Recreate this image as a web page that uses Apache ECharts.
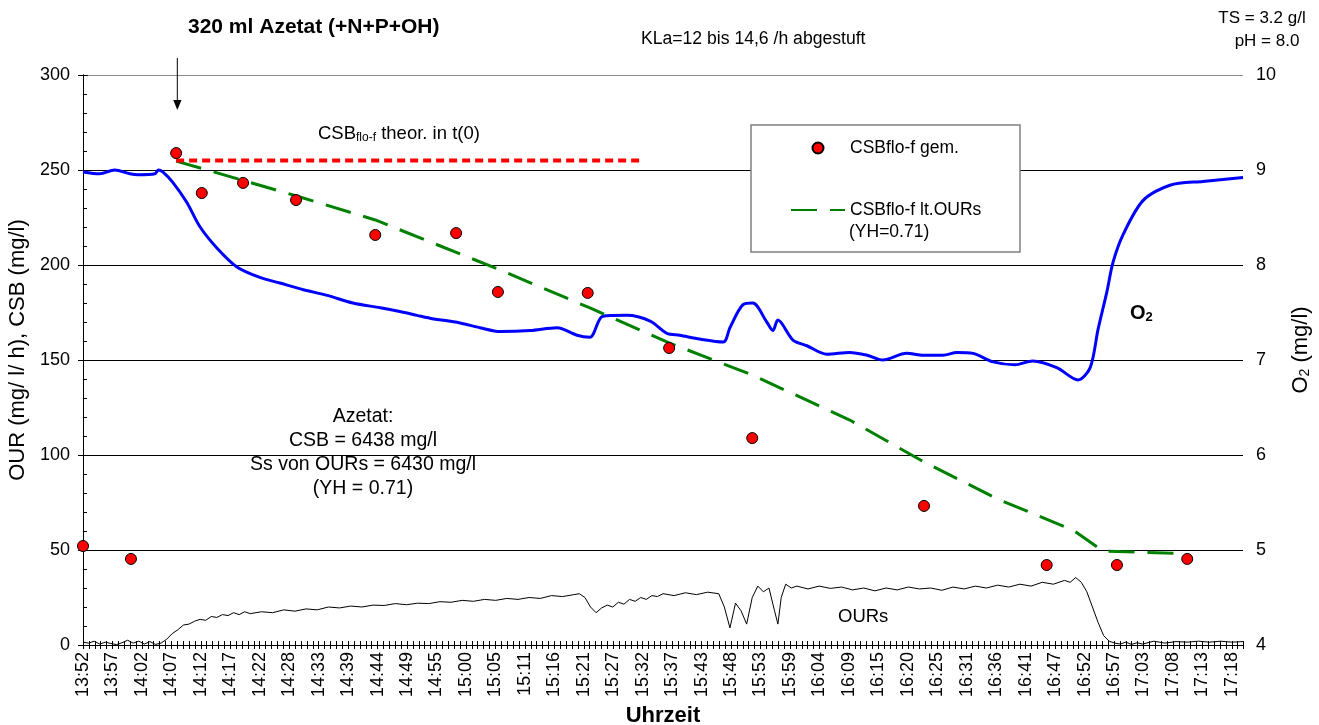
<!DOCTYPE html>
<html><head><meta charset="utf-8">
<script src="https://cdn.jsdelivr.net/npm/echarts@6/dist/echarts.min.js"></script>
<style>html,body{margin:0;padding:0;background:#fff}#c{width:1319px;height:725px}</style>
</head><body><div id="c"></div>
<script>
// ---- data (x = minutes after 13:52) ----
const timeLabels = ['13:52','13:57','14:02','14:07','14:12','14:17','14:22','14:28','14:33','14:39','14:44','14:49','14:55','15:00','15:05','15:11','15:16','15:21','15:27','15:32','15:37','15:43','15:48','15:53','15:59','16:04','16:09','16:15','16:20','16:25','16:31','16:36','16:41','16:47','16:52','16:57','17:03','17:08','17:13','17:18'];
const labelSpanMinutes = 206; // 13:52 -> 17:18

const o2Minutes = [0,3.0,5.7,8.4,9.9,12.9,13.5,14.3,16.1,18.6,21.0,24.0,27.6,31.7,35.3,39.5,43.8,48.4,53.3,56.8,59.9,62.2,67.6,71.2,74.8,80.2,85.0,88.6,90.9,93.2,97.5,101.7,104.7,107.0,110.6,114.8,116.0,118.3,120.1,122.6,123.7,124.6,127.3,129.8,133.4,137.5,140.6,143.4,147.7,150.6,154.2,156.7,159.6,163.2,167.1,170.3,174.6,178.4,180.6,182.0,183.6,184.7,186.5,190.1,194.9,200.8,208.0];
const o2Values = [8.98,8.96,9.0,8.96,8.95,8.96,9.0,8.98,8.87,8.66,8.40,8.18,7.98,7.87,7.81,7.74,7.68,7.60,7.55,7.51,7.47,7.44,7.39,7.34,7.30,7.31,7.34,7.26,7.24,7.46,7.47,7.41,7.28,7.26,7.22,7.19,7.34,7.58,7.60,7.40,7.31,7.42,7.21,7.15,7.06,7.08,7.05,7.00,7.07,7.05,7.05,7.08,7.07,6.98,6.95,6.99,6.92,6.79,6.92,7.32,7.72,8.03,8.32,8.68,8.84,8.88,8.92];

const ourMinutes = [0,1,2,3,4,5,6,7,8,9,10,11,12,13,14,15,16,17,18,19,20,21,22,23,24,25,26,27,28,29,30,32,34,36,38,40,42,44,46,48,50,52,54,56,58,60,62,64,66,68,70,72,74,76,78,80,82,84,86,88,89,90,91,92,93,94,95,96,97,98,99,100,101,102,103,104,106,108,110,112,114,115,116,117,118,119,120,121,122,123,124,124.6,125.2,126,127,128,130,132,134,136,138,140,142,144,146,148,150,152,154,156,158,160,162,164,166,168,170,172,174,176,177,178,179,180,181,182,183,184,185,186,187,188,189,190,192,194,196,198,200,202,204,206,208];
const ourValues = [1.5,1,2,0.5,1.5,0.8,0.2,1.2,2.5,1,2,0.5,1.8,0.3,1,3,6,8,10.5,11,12.5,13.5,13,15,14.5,16,15.5,17,16,17.5,16.5,17.5,17,18.5,17.8,19,18.5,20,19.5,20.5,20,21,20.8,21.8,21.2,22,21.8,22.8,22.5,23.5,23,24,23.5,24.5,24,25,24.5,26,25.5,26.5,27,25,20,17,19.5,21,20,22.5,21.5,24,23,25,24,26,25.5,27,26,27.5,26.5,27.8,27,20,9,22,18,11,25,31,28,30,18,11,25,32,30,31,29.5,31,29.8,30.5,29,30,28.5,30,29,30.5,29.5,30,28.8,30.5,29.5,31,30,31.5,30.5,32,31,33,32,34,33,35.5,33,28,20,12,5,2,1,0.5,1.5,0.3,1.2,0.5,2,1,1.8,1.5,2,1.5,2,1.5,1.8];

const csbMeasMinutes = [0,8.6,16.7,21.3,28.7,38.2,52.4,66.9,74.4,90.5,105.1,120.0,150.8,172.8,185.4,198.0];
const csbMeasValues = [52.1,45.3,258.9,237.9,243.2,234.2,215.8,216.8,185.8,185.3,156.3,108.9,73.2,42.1,42.1,45.3];

const csbOurMinutes = [16.7,38.9,52.4,74.8,90.9,105.1,120.0,137.5,150.8,164.4,177.5,182.9,195.8];
const csbOurValues = [254.7,235.8,223.7,197.4,177.4,159.0,142.1,118.4,96.3,76.3,60.5,49.5,48.2];

const csbTheorMinutes = [16.7,99.9];
const csbTheorValues = [255,255];

// ---- build ----
const zip = (a,b) => a.map((x,i)=>[x,b[i]]);
const xStep = labelSpanMinutes/(timeLabels.length-1);
const FONT = "'Liberation Sans', Arial, sans-serif";
const chart = echarts.init(document.getElementById('c'), null, {renderer:'canvas'});

const xFmt = v => { const i = Math.round(v/xStep); return (Math.abs(v - i*xStep) < 0.01 && timeLabels[i]) ? timeLabels[i] : ''; };

const option = {
  animation:false,
  textStyle:{fontFamily:FONT, color:'#000'},
  grid:{left:83, right:76, top:75, bottom:80, containLabel:false, outerBoundsMode:'none'},
  xAxis:[
    {type:'value', min:0, max:208, interval:xStep, position:'bottom',
     axisLine:{show:true, onZero:false, lineStyle:{color:'#000', width:1}},
     axisTick:{show:true, length:4, lineStyle:{color:'#000'}},
     minorTick:{show:true, splitNumber:5, length:4, lineStyle:{color:'#000'}},
     splitLine:{show:false},
     axisLabel:{rotate:90, fontSize:18, color:'#000', margin:7, formatter:xFmt, fontFamily:FONT},
     name:'Uhrzeit', nameLocation:'middle', nameGap:58,
     nameTextStyle:{fontSize:22, fontWeight:'bold', color:'#000', fontFamily:FONT}},
    {type:'value', min:0, max:208, interval:xStep, position:'bottom', offset:0,
     axisLine:{show:false}, axisLabel:{show:false}, splitLine:{show:false},
     axisTick:{show:true, inside:true, length:4, lineStyle:{color:'#000'}},
     minorTick:{show:true, splitNumber:5, length:4, lineStyle:{color:'#000'}}}
  ],
  yAxis:[
    {type:'value', min:0, max:300, interval:50, position:'left',
     axisLine:{show:true, lineStyle:{color:'#000', width:1}},
     axisTick:{show:true, length:5, lineStyle:{color:'#000'}},
     axisLabel:{fontSize:18, color:'#000', margin:13, fontFamily:FONT},
     splitLine:{show:true, lineStyle:{color:['#000','#000','#000','#000','#000','#000','#8c8c8c'], width:1}},
     name:'OUR (mg/ l/ h), CSB (mg/l)', nameLocation:'middle', nameGap:50, nameRotate:90,
     nameTextStyle:{fontSize:22, color:'#000', fontFamily:FONT, padding:[0,0,0,20]}},
    {type:'value', min:4, max:10, interval:1, position:'right',
     axisLine:{show:true, lineStyle:{color:'#000', width:1}},
     axisTick:{show:true, length:5, lineStyle:{color:'#000'}},
     axisLabel:{fontSize:18, color:'#000', margin:13, fontFamily:FONT},
     splitLine:{show:false},
     name:'{a|O}{s|2}{a| (mg/l)}', nameLocation:'middle', nameGap:46, nameRotate:90,
     nameTextStyle:{color:'#000', fontFamily:FONT, padding:[0,0,0,20], rich:{a:{fontSize:22, fontFamily:FONT, color:'#000'}, s:{fontSize:14, fontFamily:FONT, color:'#000', padding:[9,0,0,0]}}}},
    {type:'value', min:0, max:300, interval:50, position:'left', offset:0,
     axisLine:{show:false}, axisLabel:{show:false}, splitLine:{show:false},
     axisTick:{show:false, inside:true},
     minorTick:{show:true, splitNumber:5, length:4, lineStyle:{color:'#000'}}}
  ],
  legend:{
    data:[{name:'CSBflo-f gem.'}, {name:'CSBflo-f lt.OURs', itemStyle:{opacity:0}}],
    orient:'vertical', left:790, top:138, padding:0,
    itemWidth:54, itemHeight:11, itemGap:42, z:6,
    textStyle:{fontSize:17.5, color:'#000', fontFamily:FONT, lineHeight:20}
  },
  series:[
    {name:'OURs', type:'line', xAxisIndex:0, yAxisIndex:0, data:zip(ourMinutes,ourValues),
     symbol:'none', lineStyle:{color:'#000', width:1}, z:2},
    {name:'O2', type:'line', xAxisIndex:0, yAxisIndex:1, data:zip(o2Minutes,o2Values),
     symbol:'none', smooth:0.3, lineStyle:{color:'#0000ff', width:3}, z:3},
    {name:'CSBflo-f lt.OURs', type:'line', xAxisIndex:0, yAxisIndex:0, data:zip(csbOurMinutes,csbOurValues),
     symbol:'none', showSymbol:false, itemStyle:{color:'#008000'}, lineStyle:{color:'#008000', width:3, type:[26,13], cap:'butt'}, z:4},
    {name:'CSB theor', type:'line', xAxisIndex:0, yAxisIndex:0, data:zip(csbTheorMinutes,csbTheorValues),
     symbol:'none', lineStyle:{color:'#ff0000', width:4, type:[8,5], cap:'butt'}, z:4},
    {name:'CSBflo-f gem.', type:'scatter', xAxisIndex:0, yAxisIndex:0, data:zip(csbMeasMinutes,csbMeasValues),
     symbol:'circle', symbolSize:11, itemStyle:{color:'#ff0000', borderColor:'#000', borderWidth:1, opacity:1}, z:5}
  ],
  graphic:[
    {type:'rect', z:5, shape:{x:751, y:125, width:269, height:127}, style:{fill:'#fff', stroke:'#808080', lineWidth:1.5}},
    {type:'text', z:7, x:849, y:232, style:{text:'(YH=0.71)', fontSize:17.5, fontFamily:FONT, fill:'#000', align:'left', verticalAlign:'middle'}},
    {type:'text', z:7, x:188, y:27, style:{text:'320 ml Azetat (+N+P+OH)', fontSize:21, fontWeight:'bold', fontFamily:FONT, fill:'#000', align:'left', verticalAlign:'middle'}},
    {type:'line', z:7, shape:{x1:177.3, y1:58, x2:177.3, y2:102}, style:{stroke:'#000', lineWidth:1}},
    {type:'polygon', z:7, shape:{points:[[173.3,100],[181.5,100],[177.3,110]]}, style:{fill:'#000'}},
    {type:'text', z:7, x:641, y:39, style:{text:'KLa=12 bis 14,6 /h abgestuft', fontSize:17.6, fontFamily:FONT, fill:'#000', align:'left', verticalAlign:'middle'}},
    {type:'text', z:7, x:1262, y:18, style:{text:'TS = 3.2 g/l', fontSize:17, fontFamily:FONT, fill:'#000', align:'center', verticalAlign:'middle'}},
    {type:'text', z:7, x:1267, y:41, style:{text:'pH = 8.0', fontSize:17, fontFamily:FONT, fill:'#000', align:'center', verticalAlign:'middle'}},
    {type:'text', z:7, x:318, y:134, style:{text:'{a|CSB}{s|flo-f}{a| theor. in t(0)}', fontFamily:FONT, fill:'#000', align:'left', verticalAlign:'middle',
      rich:{a:{fontSize:18.5, fontFamily:FONT, fill:'#000'}, s:{fontSize:12, fontFamily:FONT, fill:'#000', padding:[8,0,0,0]}}}},
    {type:'text', z:7, x:363, y:453, style:{text:'Azetat:\nCSB = 6438 mg/l\nSs von OURs = 6430 mg/l\n(YH = 0.71)', fontSize:19.5, lineHeight:24, fontFamily:FONT, fill:'#000', align:'center', verticalAlign:'middle'}},
    {type:'text', z:7, x:838, y:617, style:{text:'OURs', fontSize:18.5, fontFamily:FONT, fill:'#000', align:'left', verticalAlign:'middle'}},
    {type:'text', z:7, x:1130, y:313, style:{text:'{a|O}{s|2}', fontFamily:FONT, fill:'#000', align:'left', verticalAlign:'middle',
      rich:{a:{fontSize:20, fontWeight:'bold', fontFamily:FONT, fill:'#000'}, s:{fontSize:13, fontWeight:'bold', fontFamily:FONT, fill:'#000', padding:[9,0,0,0]}}}}
  ]
};
chart.setOption(option);
</script></body></html>
